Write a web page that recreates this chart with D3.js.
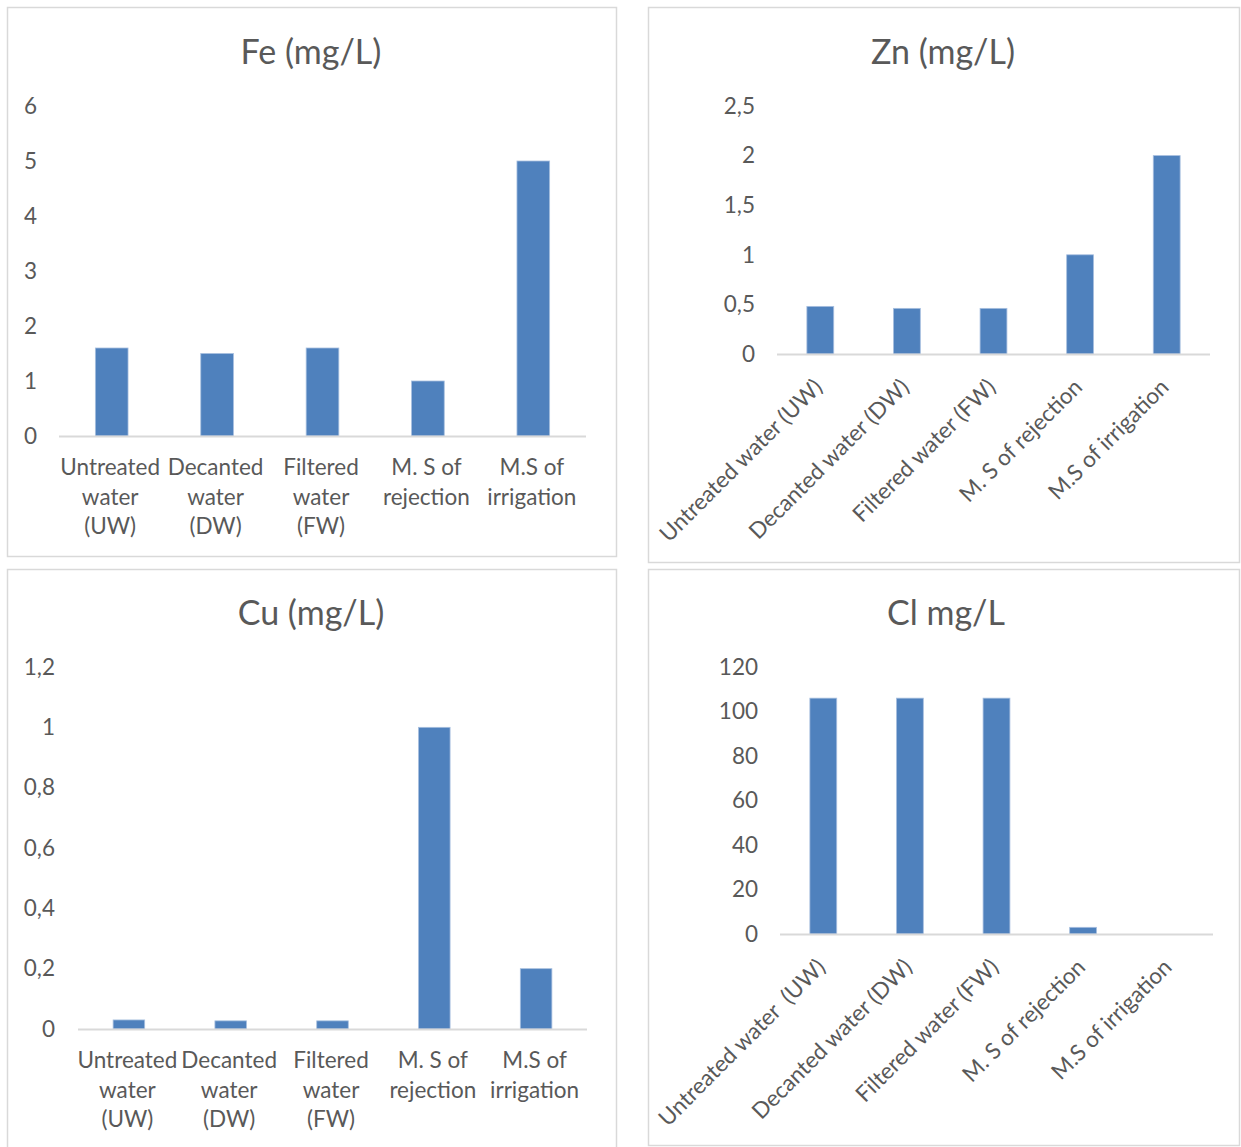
<!DOCTYPE html>
<html>
<head>
<meta charset="utf-8">
<script src="https://cdn.jsdelivr.net/npm/d3@7"></script>
<style>
  html, body { margin: 0; padding: 0; background: #ffffff; }
  svg { display: block; }
  text { font-family: Lato, "Open Sans", sans-serif; fill: #595959; }
</style>
</head>
<body>
<svg id="chart" width="1241" height="1147"></svg>
<script>
// Sample categories (shared by all four panels)
const categories = ["Untreated water (UW)", "Decanted water (DW)", "Filtered water (FW)", "M. S of rejection", "M.S of irrigation"];
// Wrapped category labels for the horizontal-label panels
const wrappedLabels = [["Untreated", "water", "(UW)"], ["Decanted", "water", "(DW)"], ["Filtered", "water", "(FW)"], ["M. S of", "rejection"], ["M.S of", "irrigation"]];
// Rotated labels for the chloride panel (keeps its double space)
const clLabels = ["Untreated water  (UW)", "Decanted water (DW)", "Filtered water (FW)", "M. S of rejection", "M.S of irrigation"];

// Measured concentrations
const feValues = [1.6, 1.5, 1.6, 1.0, 5.0];
const znValues = [0.48, 0.46, 0.46, 1.0, 2.0];
const cuValues = [0.03, 0.027, 0.027, 1.0, 0.2];
const clValues = [106, 106, 106, 3, 0];

// Y tick values
const feTicks = [0, 1, 2, 3, 4, 5, 6];
const znTicks = [0, 0.5, 1, 1.5, 2, 2.5];
const cuTicks = [0, 0.2, 0.4, 0.6, 0.8, 1, 1.2];
const clTicks = [0, 20, 40, 60, 80, 100, 120];

// Titles
const titles = ["Fe (mg/L)", "Zn (mg/L)", "Cu (mg/L)", "Cl mg/L"];

const BAR = "#4F81BD";
const GRID = "#D9D9D9";
const LABEL_SIZE = "22.5px";

const fmt = d3.formatLocale({decimal: ",", thousands: " ", grouping: [3], currency: ["", ""]}).format(".1~f");

const svg = d3.select("#chart");

const panels = [
  {title: titles[0], values: feValues, ticks: feTicks, labels: wrappedLabels, rotated: false,
   box: [7, 7, 609, 549], titleX: 311, titleY: 52, x0: 59, x1: 586, yBase: 436, yTop: 106, labelRight: 37},
  {title: titles[1], values: znValues, ticks: znTicks, labels: categories, rotated: true,
   box: [648, 7, 591, 555], titleX: 943, titleY: 52, x0: 777, x1: 1210, yBase: 354, yTop: 106, labelRight: 755},
  {title: titles[2], values: cuValues, ticks: cuTicks, labels: wrappedLabels, rotated: false,
   box: [7, 569, 609, 590], titleX: 311, titleY: 613, x0: 78, x1: 587, yBase: 1029, yTop: 667, labelRight: 55},
  {title: titles[3], values: clValues, ticks: clTicks, labels: clLabels, rotated: true,
   box: [648, 569, 591, 576], titleX: 946, titleY: 613, x0: 780, x1: 1213, yBase: 934, yTop: 667, labelRight: 758}
];

panels.forEach(p => {
  const g = svg.append("g");

  // panel frame
  g.append("rect")
    .attr("x", p.box[0] + 0.5).attr("y", p.box[1] + 0.5)
    .attr("width", p.box[2]).attr("height", p.box[3])
    .attr("fill", "#ffffff").attr("stroke", GRID).attr("stroke-width", 1.5);

  // title
  g.append("text")
    .attr("x", p.titleX).attr("y", p.titleY)
    .attr("dy", "0.35em")
    .attr("text-anchor", "middle")
    .style("font-size", "34px")
    .text(p.title);

  const x = d3.scaleBand().domain(d3.range(categories.length)).range([p.x0, p.x1]).paddingInner(0.69).paddingOuter(0.345);
  const y = d3.scaleLinear().domain([0, d3.max(p.ticks)]).range([p.yBase, p.yTop]);

  // y axis labels (no line, no ticks)
  const yAxis = d3.axisLeft(y).tickValues(p.ticks).tickFormat(fmt).tickSize(0).tickPadding(0);
  const ya = g.append("g").attr("transform", `translate(${p.labelRight},0)`).call(yAxis);
  ya.select(".domain").remove();
  ya.selectAll("text").style("font-size", LABEL_SIZE).attr("fill", "#595959").style("font-family", "Lato, 'Open Sans', sans-serif");

  // bars
  g.selectAll("rect.bar").data(p.values).join("rect")
    .attr("class", "bar")
    .attr("x", (d, i) => x(i))
    .attr("width", x.bandwidth())
    .attr("y", d => y(d))
    .attr("height", d => y(0) - y(d))
    .attr("fill", BAR)
    .attr("stroke", "#a7bfdf").attr("stroke-width", 0.8);

  // category axis baseline
  g.append("line")
    .attr("x1", p.x0).attr("x2", p.x1)
    .attr("y1", p.yBase + 0.5).attr("y2", p.yBase + 0.5)
    .attr("stroke", GRID).attr("stroke-width", 2);

  const xc = i => x(i) + x.bandwidth() / 2;

  if (!p.rotated) {
    p.labels.forEach((lines, i) => {
      const t = g.append("text")
        .attr("text-anchor", "middle")
        .style("font-size", LABEL_SIZE);
      lines.forEach((ln, k) => {
        t.append("tspan").attr("x", xc(i) - 1.5).attr("y", p.yBase + 31 + k * 29.7).attr("dy", "0.35em").text(ln);
      });
    });
  } else {
    p.labels.forEach((lab, i) => {
      g.append("text")
        .attr("transform", `translate(${xc(i) + 3.5},${p.yBase + 34.5}) rotate(-45)`)
        .attr("text-anchor", "end")
        .style("font-size", LABEL_SIZE)
        .style("white-space", "pre")
        .text(lab);
    });
  }
});
</script>
</body>
</html>
